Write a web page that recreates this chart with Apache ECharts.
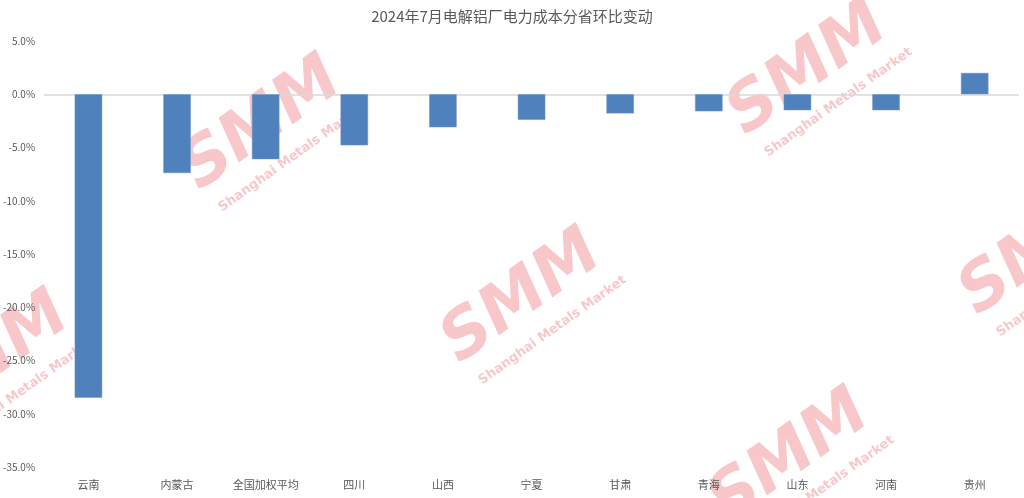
<!DOCTYPE html>
<html><head><meta charset="utf-8">
<script src="https://cdn.jsdelivr.net/npm/echarts@6/dist/echarts.min.js"></script>
<style>html,body{margin:0;padding:0;background:#fff}#c{width:1024px;height:498px}</style>
</head><body><div id="c"></div>
<script>
const categories = ['云南','内蒙古','全国加权平均','四川','山西','宁夏','甘肃','青海','山东','河南','贵州'];
const values = [-28.5,-7.4,-6.1,-4.8,-3.1,-2.4,-1.8,-1.6,-1.5,-1.5,2.0];
const titleText = '2024年7月电解铝厂电力成本分省环比变动';
const watermarks = [[262,125],[522,298],[808,70],[790,458],[1040,250],[-10,360]];

const chart = echarts.init(document.getElementById('c'));
const font = '"Noto Sans CJK SC", "Noto Sans", sans-serif';
function wm(p){
  return {type:'group', x:p[0], y:p[1], rotation:0.62, z:100, silent:true, children:[
    {type:'text', style:{text:'SMM', x:0, y:0, align:'center', verticalAlign:'middle', font:'italic bold 66px "DejaVu Sans", sans-serif', fill:'rgba(232,70,80,0.3)'}},
    {type:'text', style:{text:'Shanghai Metals Market', x:6, y:44, align:'center', verticalAlign:'middle', font:'bold 13px "DejaVu Sans", sans-serif', fill:'rgba(232,70,80,0.3)'}}
  ]};
}
chart.setOption({
  animation:false,
  textStyle:{fontFamily:font},
  title:{text:titleText, left:'center', top:4, textStyle:{fontSize:15, fontWeight:'normal', color:'#595959', fontFamily:font}},
  grid:{left:40, right:5, top:41, bottom:31, containLabel:false},
  xAxis:{type:'category', data:categories,
    axisLine:{show:false, onZero:false}, axisTick:{show:false},
    axisLabel:{color:'#595959', fontSize:11, margin:12, interval:0}},
  yAxis:{type:'value', min:-35, max:5, interval:5,
    axisLine:{show:false}, axisTick:{show:false}, splitLine:{show:false},
    axisLabel:{color:'#595959', fontSize:10, margin:9, formatter:v=>v.toFixed(1)+'%'}},
  series:[{type:'bar', data:values, barWidth:'31%',
    itemStyle:{color:'#4f81bd', borderColor:'#6f97c9', borderWidth:0.5},
    markLine:{silent:true, symbol:'none', label:{show:false}, lineStyle:{color:'#d9d9d9', width:1.5, type:'solid'}, data:[{yAxis:0}], z:1}
  }],
  graphic: watermarks.map(wm)
});
</script></body></html>
